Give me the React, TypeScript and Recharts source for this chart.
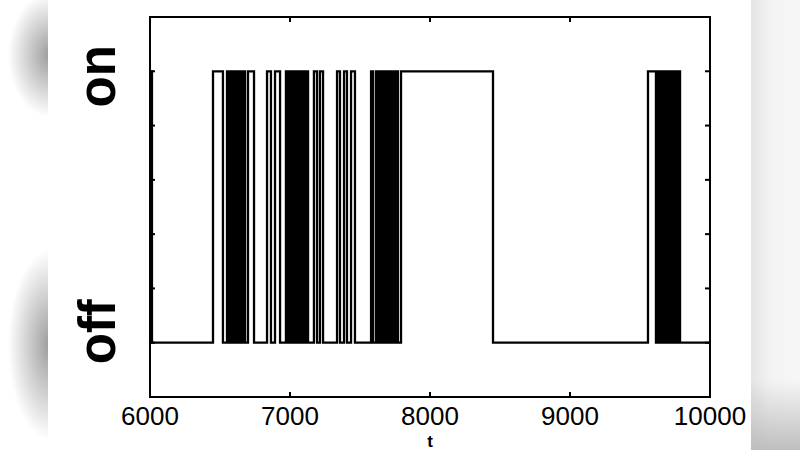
import React from 'react';
import { LineChart, Line, XAxis, YAxis } from 'recharts';

// Times (t) at which the on/off state toggles; the signal starts "on" at t = 6000
const startTime = 6000;
const endTime = 10000;
const startState = 1;
const switchTimes = [
  6014, 6450, 6521,
  6550, 6564, 6579, 6593, 6607, 6621, 6636, 6650, 6664, 6679,
  6700, 6743, 6836, 6864, 6893, 6929,
  6971, 6986, 7000, 7014, 7029, 7043, 7057, 7071, 7086, 7100, 7114, 7129,
  7171, 7193, 7214, 7236, 7336, 7357, 7386, 7407, 7436, 7464,
  7579, 7593, 7614, 7629, 7643, 7657, 7671, 7686, 7700, 7714, 7729, 7743, 7757, 7771, 7793,
  8450, 9557,
  9614, 9629, 9643, 9657, 9671, 9686, 9700, 9714, 9729, 9743, 9757, 9771, 9786,
];
const xTicks = [6000, 7000, 8000, 9000, 10000];
const yTicks = [0, 0.2, 0.4, 0.6, 0.8, 1];
const stateLabels: Record<number, string> = { 1: 'on', 0: 'off' };
const xLabel = 't';

const data: { t: number; s: number }[] = [{ t: startTime, s: startState }];
let cur = startState;
switchTimes.forEach((t) => {
  cur = 1 - cur;
  data.push({ t, s: cur });
});
data.push({ t: endTime, s: cur });

const FONT = '"Liberation Sans", Arial, sans-serif';

const BottomTick = (props: any) => {
  const { x, y, payload } = props;
  const edge = payload.value === xTicks[0] || payload.value === xTicks[xTicks.length - 1];
  return (
    <g>
      {!edge && <line x1={x} y1={y} x2={x} y2={y - 5} stroke="#000" strokeWidth={2} />}
      <text
        x={x}
        y={y + 28}
        textAnchor="middle"
        fontSize={26}
        fontFamily={FONT}
        fill="#000"
      >
        {payload.value}
      </text>
    </g>
  );
};

const TopTick = (props: any) => {
  const { x, y, payload } = props;
  const edge = payload.value === xTicks[0] || payload.value === xTicks[xTicks.length - 1];
  return <g>{!edge && <line x1={x} y1={y} x2={x} y2={y + 5} stroke="#000" strokeWidth={2} />}</g>;
};

const LeftTick = (props: any) => {
  const { x, y, payload } = props;
  const label = stateLabels[payload.value];
  const cy = payload.value === 1 ? y + 5 : y - 11;
  const bx = x - 35;
  return (
    <g>
      <line x1={x} y1={y} x2={x + 5} y2={y} stroke="#000" strokeWidth={2} />
      {label && (
        <text
          x={bx}
          y={cy}
          transform={`rotate(-90, ${bx}, ${cy})`}
          textAnchor="middle"
          fontSize={51}
          fontWeight="bold"
          fontFamily={FONT}
          fill="#000"
        >
          {label}
        </text>
      )}
    </g>
  );
};

const RightTick = (props: any) => {
  const { x, y } = props;
  return <line x1={x} y1={y} x2={x - 5} y2={y} stroke="#000" strokeWidth={2} />;
};

const XLabel = (props: any) => {
  const vb = props.viewBox || { x: 0, y: 0, width: 0, height: 0 };
  return (
    <text
      x={vb.x + vb.width / 2}
      y={vb.y + 50}
      textAnchor="middle"
      fontSize={17}
      fontWeight="bold"
      fontFamily={FONT}
      fill="#000"
    >
      {xLabel}
    </text>
  );
};

const axisLineStyle = { stroke: '#000', strokeWidth: 2, strokeLinecap: 'square' as const };

export default function App() {
  return (
    <div
      style={{
        position: 'absolute',
        left: 0,
        top: 0,
        width: 800,
        height: 450,
        overflow: 'hidden',
        background: '#fff',
      }}
    >
      {/* left decorative blurred blobs */}
      <div
        style={{
          position: 'absolute',
          left: 0,
          top: 0,
          width: 48,
          height: 450,
          background:
            'radial-gradient(ellipse 42px 62px at 50px 55px, rgba(150,150,150,0.95), rgba(255,255,255,0) 100%), radial-gradient(ellipse 42px 95px at 50px 345px, rgba(150,150,150,0.95), rgba(255,255,255,0) 100%)',
        }}
      />
      {/* right strip */}
      <div
        style={{
          position: 'absolute',
          left: 751,
          top: 0,
          width: 49,
          height: 450,
          background: 'linear-gradient(to right, #e4e4e4, #f3f3f3 40%, #f6f6f6)',
        }}
      />
      <div
        style={{
          position: 'absolute',
          left: 751,
          top: 380,
          width: 49,
          height: 70,
          background: 'linear-gradient(to bottom, rgba(190,190,190,0), rgba(185,185,185,0.9))',
        }}
      />
      <div style={{ position: 'absolute', left: 0, top: 0 }}>
        <LineChart width={800} height={450} data={data} margin={{ top: 15, right: 30, bottom: 23, left: 90 }}>
          <XAxis
            xAxisId="bottom"
            dataKey="t"
            type="number"
            domain={[startTime, endTime]}
            ticks={xTicks}
            interval={0}
            allowDataOverflow
            height={30}
            tickSize={0}
            tickMargin={0}
            tickLine={false}
            axisLine={axisLineStyle}
            tick={<BottomTick />}
            label={<XLabel />}
          />
          <XAxis
            xAxisId="top"
            orientation="top"
            dataKey="t"
            type="number"
            domain={[startTime, endTime]}
            ticks={xTicks}
            interval={0}
            allowDataOverflow
            height={2}
            tickSize={0}
            tickMargin={0}
            tickLine={false}
            axisLine={axisLineStyle}
            tick={<TopTick />}
          />
          <YAxis
            yAxisId="left"
            type="number"
            domain={[-0.2, 1.2]}
            ticks={yTicks}
            interval={0}
            allowDataOverflow
            width={60}
            tickSize={0}
            tickMargin={0}
            tickLine={false}
            axisLine={axisLineStyle}
            tick={<LeftTick />}
          />
          <YAxis
            yAxisId="right"
            orientation="right"
            type="number"
            domain={[-0.2, 1.2]}
            ticks={yTicks}
            interval={0}
            allowDataOverflow
            width={60}
            tickSize={0}
            tickMargin={0}
            tickLine={false}
            axisLine={axisLineStyle}
            tick={<RightTick />}
          />
          <Line
            xAxisId="top"
            yAxisId="right"
            dataKey="s"
            stroke="transparent"
            strokeWidth={0}
            dot={false}
            activeDot={false}
            isAnimationActive={false}
          />
          <Line
            xAxisId="bottom"
            yAxisId="left"
            type="stepAfter"
            dataKey="s"
            stroke="#000"
            strokeWidth={2.3}
            dot={false}
            activeDot={false}
            isAnimationActive={false}
          />
        </LineChart>
      </div>
    </div>
  );
}
